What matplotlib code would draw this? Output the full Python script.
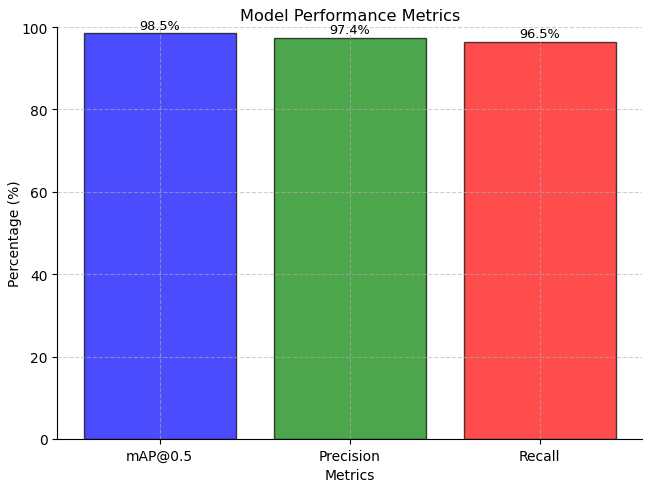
import matplotlib
matplotlib.use("Agg")
import matplotlib.pyplot as plt

categories = ["mAP@0.5", "Precision", "Recall"]
values = [98.5, 97.4, 96.5]
colors = ["blue", "green", "red"]

fig, ax = plt.subplots(figsize=(6.5, 4.85), dpi=100)
bars = ax.bar(categories, values, color=colors, alpha=0.7, edgecolor="black")
for b, v in zip(bars, values):
    ax.text(b.get_x() + b.get_width() / 2, v + 0.4, f"{v}%", ha="center", va="bottom", fontsize=9.3)
ax.set_ylim(0, 100)
ax.set_title("Model Performance Metrics", fontsize=11.6, pad=5)
ax.set_xlabel("Metrics")
ax.set_ylabel("Percentage (%)", labelpad=-1)
ax.grid(True, linestyle="--", alpha=0.6)
ax.set_axisbelow(False)
ax.spines["top"].set_visible(False)
ax.spines["right"].set_visible(False)
fig.subplots_adjust(left=0.088, right=0.988, top=0.942, bottom=0.093)
fig.savefig("out.png", dpi=100)
